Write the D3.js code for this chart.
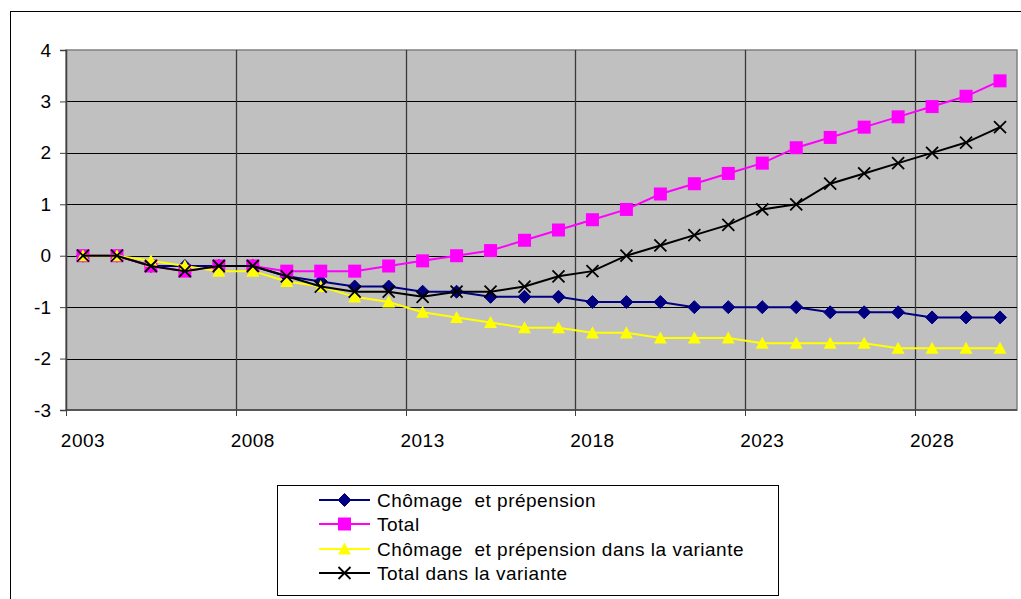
<!DOCTYPE html>
<html><head><meta charset="utf-8">
<script src="https://cdn.jsdelivr.net/npm/d3@7"></script>
<style>
html,body{margin:0;padding:0;background:#fff;}
text{font-family:"Liberation Sans",Arial,sans-serif;}
</style></head>
<body><svg id="c" width="1021" height="599"></svg>
<script>
const years = d3.range(2003, 2031);
const tickYears = [2003, 2008, 2013, 2018, 2023, 2028];
const yTicks = [-3, -2, -1, 0, 1, 2, 3, 4];
const chomage = [0,0,-0.2,-0.2,-0.2,-0.2,-0.4,-0.5,-0.6,-0.6,-0.7,-0.7,-0.8,-0.8,-0.8,-0.9,-0.9,-0.9,-1.0,-1.0,-1.0,-1.0,-1.1,-1.1,-1.1,-1.2,-1.2,-1.2];
const total = [0,0,-0.2,-0.3,-0.2,-0.2,-0.3,-0.3,-0.3,-0.2,-0.1,0,0.1,0.3,0.5,0.7,0.9,1.2,1.4,1.6,1.8,2.1,2.3,2.5,2.7,2.9,3.1,3.4];
const chomageVar = [0,0,-0.1,-0.2,-0.3,-0.3,-0.5,-0.6,-0.8,-0.9,-1.1,-1.2,-1.3,-1.4,-1.4,-1.5,-1.5,-1.6,-1.6,-1.6,-1.7,-1.7,-1.7,-1.7,-1.8,-1.8,-1.8,-1.8];
const totalVar = [0,0,-0.2,-0.3,-0.2,-0.2,-0.4,-0.6,-0.7,-0.7,-0.8,-0.7,-0.7,-0.6,-0.4,-0.3,0,0.2,0.4,0.6,0.9,1.0,1.4,1.6,1.8,2.0,2.2,2.5];
const seriesNames = ["Chômage  et prépension","Total","Chômage  et prépension dans la variante","Total dans la variante"];
const seriesColors = ["#000080","#FF00FF","#FFFF00","#000000"];
const seriesMarkers = ["diamond","square","triangle","cross"];
const seriesData = [chomage,total,chomageVar,totalVar];

const svg = d3.select("#c");
const L=66, R=1017, T=50, B=410;
const x = d3.scalePoint().domain(years).range([L,R]).padding(0.5);
const step = x.step();
const y = d3.scaleLinear().domain([-3,4]).range([B,T]);

// outer frame
svg.append("rect").attr("x",10.5).attr("y",11.5).attr("width",1100).attr("height",700)
  .attr("fill","none").attr("stroke","#000").attr("stroke-width",1);

// plot area
svg.append("rect").attr("x",L).attr("y",T).attr("width",R-L).attr("height",B-T)
  .attr("fill","#C0C0C0").attr("stroke","#808080").attr("stroke-width",1.5);

// horizontal gridlines
svg.append("g").selectAll("line").data(yTicks.filter(v=>v>-3 && v<4)).join("line")
  .attr("x1",L).attr("x2",R).attr("y1",d=>Math.round(y(d))+0.5).attr("y2",d=>Math.round(y(d))+0.5)
  .attr("stroke","#000").attr("stroke-width",1);

// vertical gridlines at category boundaries
const bx = yr => Math.round(x(yr) - step/2) + 0.5;
svg.append("g").selectAll("line").data(tickYears.slice(1)).join("line")
  .attr("x1",bx).attr("x2",bx).attr("y1",T).attr("y2",B)
  .attr("stroke","#3a3a3a").attr("stroke-width",1.3);

// y axis
const ya = svg.append("g").attr("transform",`translate(${L},0)`)
  .call(d3.axisLeft(y).tickValues(yTicks).tickSize(6).tickPadding(9).tickFormat(d=>String(d)));
ya.select(".domain").attr("stroke","#404040").attr("stroke-width",1.5);
ya.selectAll(".tick line").attr("stroke","#404040");
ya.selectAll("text").attr("font-size",19).attr("font-family","Liberation Sans, Arial, sans-serif").attr("fill","#000");

// x axis line and ticks
svg.append("line").attr("x1",L).attr("x2",R).attr("y1",B).attr("y2",B).attr("stroke","#404040").attr("stroke-width",1.5);
svg.append("g").selectAll("line").data(tickYears).join("line")
  .attr("x1",bx).attr("x2",bx).attr("y1",B).attr("y2",B+6).attr("stroke","#404040").attr("stroke-width",1);
svg.append("g").selectAll("text").data(tickYears).join("text")
  .attr("x",d=>x(d)).attr("y",447).attr("text-anchor","middle").attr("font-size",19)
  .attr("letter-spacing",0.5).text(d=>d);

// marker drawing
function marker(g, type, color, cx, cy, s){
  if(type==="diamond"){
    g.append("path").attr("d",`M${cx},${cy-s}L${cx+s},${cy}L${cx},${cy+s}L${cx-s},${cy}Z`)
      .attr("fill",color).attr("stroke",color).attr("stroke-width",1);
  } else if(type==="square"){
    g.append("rect").attr("x",cx-s).attr("y",cy-s).attr("width",2*s).attr("height",2*s).attr("fill",color);
  } else if(type==="triangle"){
    g.append("path").attr("d",`M${cx},${cy-s}L${cx+s},${cy+s*0.85}L${cx-s},${cy+s*0.85}Z`).attr("fill",color);
  } else {
    g.append("path").attr("d",`M${cx-s},${cy-s}L${cx+s},${cy+s}M${cx+s},${cy-s}L${cx-s},${cy+s}`)
      .attr("stroke",color).attr("stroke-width",1.8).attr("fill","none");
  }
}
const sizes = {diamond:6.5, square:6.5, triangle:6.5, cross:6};

const line = d3.line().x((d,i)=>x(years[i])).y(d=>y(d));
seriesData.forEach((data,k)=>{
  const g = svg.append("g");
  g.append("path").datum(data).attr("d",line).attr("fill","none")
    .attr("stroke",seriesColors[k]).attr("stroke-width",2);
  data.forEach((v,i)=> marker(g, seriesMarkers[k], seriesColors[k], x(years[i]), y(v), sizes[seriesMarkers[k]]));
});

// legend
const lg = svg.append("g");
lg.append("rect").attr("x",277.5).attr("y",485.5).attr("width",501).attr("height",110)
  .attr("fill","#fff").attr("stroke","#000").attr("stroke-width",1);
const rowY = [500, 524, 549, 573];
seriesNames.forEach((n,k)=>{
  lg.append("line").attr("x1",319).attr("x2",370).attr("y1",rowY[k]).attr("y2",rowY[k])
    .attr("stroke",seriesColors[k]).attr("stroke-width",2);
  marker(lg, seriesMarkers[k], seriesColors[k], 344.5, rowY[k], sizes[seriesMarkers[k]]);
  lg.append("text").attr("x",377).attr("y",rowY[k]+7).attr("font-size",19)
    .attr("letter-spacing",0.5).style("white-space","pre").text(n);
});
</script></body></html>
